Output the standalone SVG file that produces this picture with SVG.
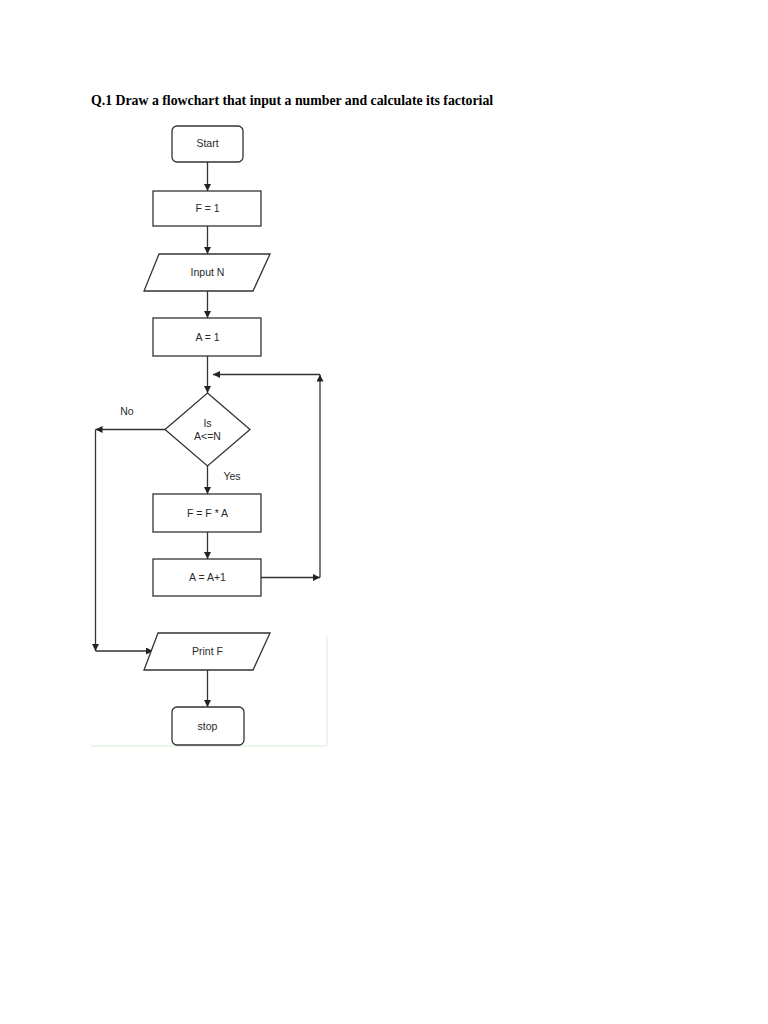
<svg xmlns="http://www.w3.org/2000/svg" width="768" height="1024" viewBox="0 0 768 1024">
<defs>
<marker id="ah" viewBox="0 0 10 10" refX="10" refY="5" markerWidth="7" markerHeight="7" orient="auto" markerUnits="userSpaceOnUse">
<path d="M0,0 L10,5 L0,10 Z" fill="#222"/>
</marker>
</defs>
<style>
.shape{fill:#fff;stroke:#333;stroke-width:1.3}
.lbl{font-family:"Liberation Sans",Arial,sans-serif;font-size:10.5px;fill:#2a2a2a;text-anchor:middle}
.edge{fill:none;stroke:#333;stroke-width:1.3}
.title{font-family:"Liberation Serif","Times New Roman",serif;font-size:13.8px;font-weight:bold;fill:#000}
.faint{fill:none;stroke:#e3f3e3;stroke-width:1.5}
</style>
<rect width="768" height="1024" fill="#fff"/>
<text class="title" x="91" y="105">Q.1 Draw a flowchart that input a number and calculate its factorial</text>
<g id="artifacts">
<line class="faint" x1="91" y1="746" x2="327" y2="746"/>
<line class="faint" x1="327" y1="636" x2="327" y2="746"/>
</g>
<g id="connectors">
<line class="edge" x1="207.5" y1="162" x2="207.5" y2="191" marker-end="url(#ah)"/>
<line class="edge" x1="207.5" y1="226" x2="207.5" y2="254" marker-end="url(#ah)"/>
<line class="edge" x1="207.5" y1="291" x2="207.5" y2="318" marker-end="url(#ah)"/>
<line class="edge" x1="207.5" y1="356" x2="207.5" y2="393" marker-end="url(#ah)"/>
<line class="edge" x1="207.5" y1="466" x2="207.5" y2="494" marker-end="url(#ah)"/>
<line class="edge" x1="207.5" y1="532" x2="207.5" y2="559" marker-end="url(#ah)"/>
<line class="edge" x1="207.5" y1="670" x2="207.5" y2="707" marker-end="url(#ah)"/>
<line class="edge" x1="261" y1="577.5" x2="320" y2="577.5" marker-end="url(#ah)"/>
<line class="edge" x1="320" y1="577.5" x2="320" y2="374.5" marker-end="url(#ah)"/>
<line class="edge" x1="320" y1="374.5" x2="213" y2="374.5" marker-end="url(#ah)"/>
<line class="edge" x1="165" y1="429.5" x2="95.5" y2="429.5" marker-end="url(#ah)"/>
<line class="edge" x1="95.5" y1="429.5" x2="95.5" y2="651" marker-end="url(#ah)"/>
<line class="edge" x1="95.5" y1="651" x2="153" y2="651" marker-end="url(#ah)"/>
<text class="lbl" x="127" y="415">No</text>
<text class="lbl" x="232" y="480">Yes</text>
</g>
<g id="start">
<rect class="shape" x="172" y="126" width="71" height="36" rx="5"/>
<text class="lbl" x="207.5" y="147">Start</text>
</g>
<g id="f1">
<rect class="shape" x="153" y="191" width="108" height="35"/>
<text class="lbl" x="207.5" y="212">F = 1</text>
</g>
<g id="inputN">
<polygon class="shape" points="159,254 270,254 253,291 144,291"/>
<text class="lbl" x="207.5" y="276">Input N</text>
</g>
<g id="a1">
<rect class="shape" x="153" y="318" width="108" height="38"/>
<text class="lbl" x="207.5" y="341">A = 1</text>
</g>
<g id="decision">
<polygon class="shape" points="207.5,393 250,429.5 207.5,466 165,429.5"/>
<text class="lbl" x="207.5" y="427">Is</text>
<text class="lbl" x="207.5" y="440">A&lt;=N</text>
</g>
<g id="fmul">
<rect class="shape" x="153" y="494" width="108" height="38"/>
<text class="lbl" x="207.5" y="517">F = F * A</text>
</g>
<g id="ainc">
<rect class="shape" x="153" y="559" width="108" height="37"/>
<text class="lbl" x="207.5" y="581">A = A+1</text>
</g>
<g id="printF">
<polygon class="shape" points="158,633 270,633 253,670 144,670"/>
<text class="lbl" x="207.5" y="655">Print F</text>
</g>
<g id="stop">
<rect class="shape" x="172" y="707" width="72" height="38" rx="5"/>
<text class="lbl" x="207.5" y="730">stop</text>
</g>
</svg>
